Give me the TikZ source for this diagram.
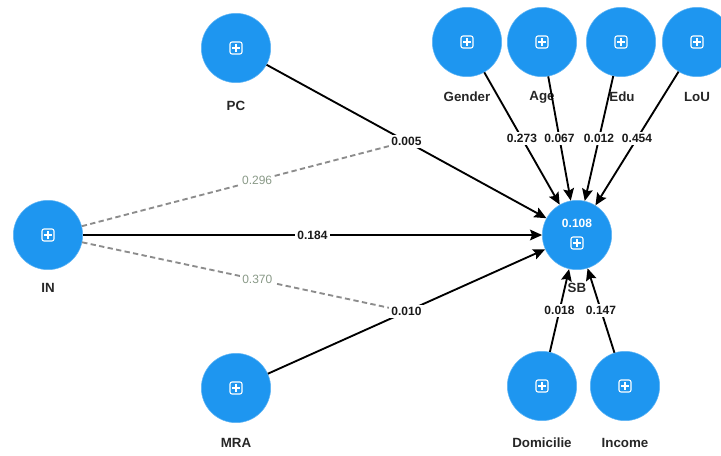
\documentclass[tikz,border=0pt]{standalone}
\usepackage{fontspec}
\setmainfont{Liberation Sans}
\usetikzlibrary{arrows.meta,calc}
\definecolor{lvblue}{HTML}{1E96F0}
\definecolor{dashgray}{HTML}{8C8C8C}
\definecolor{coefgray}{HTML}{8A9A88}
\tikzset{
  lv/.style={circle, fill=lvblue, draw=lvblue!70!white, line width=0.4pt, minimum size=52pt, inner sep=0pt},
  lbl/.style={font=\bfseries\fontsize{10}{12}\selectfont, text=black!85},
  coef/.style={font=\bfseries\fontsize{9}{11}\selectfont, text=black!90, fill=white, inner sep=1.5pt},
  gcoef/.style={font=\fontsize{9}{11}\selectfont, text=coefgray, fill=white, inner sep=1.5pt},
  path/.style={line width=1.4pt, black, -{Stealth[length=9pt,width=8pt,inset=1.5pt]}},
  mod/.style={line width=1.4pt, dashgray, dash pattern=on 4pt off 2.5pt},
  plusicon/.pic={
    \draw[white, line width=0.8pt, rounded corners=1.5pt] (-6,-6) rectangle (6,6);
    \draw[white, line width=0.8pt] (-3.6,0) -- (3.6,0) (0,-3.6) -- (0,3.6);
  }
}
\begin{document}
\begin{tikzpicture}[x=0.75pt, y=-0.75pt]
\useasboundingbox (0,0) rectangle (721,455);
% latent variables
\node[lv] (PC) at (236,48) {};
\node[lv] (IN) at (48,235) {};
\node[lv] (MRA) at (236,388) {};
\node[lv] (SB) at (577,235) {};
\node[lv] (Gender) at (467,42) {};
\node[lv] (Age) at (542,42) {};
\node[lv] (Edu) at (621,42) {};
\node[lv] (LoU) at (697,42) {};
\node[lv] (Dom) at (542,386) {};
\node[lv] (Inc) at (625,386) {};
% icons
\foreach \n in {PC,IN,MRA,Gender,Age,Edu,LoU,Dom,Inc} { \pic at (\n) {plusicon}; }
\pic at ($(SB)+(0,8)$) {plusicon};
\node[font=\bfseries\fontsize{9}{11}\selectfont, text=white] (SBr2) at ($(SB)+(0,-12)$) {0.108};
% labels
\node[lbl] (PCl) at (236,106) {PC};
\node[lbl] (INl) at (48,288) {IN};
\node[lbl] (MRAl) at (236,443) {MRA};
\node[lbl] (SBl) at (577,288) {SB};
\node[lbl] (Genderl) at (467,97) {Gender};
\node[lbl] (Agel) at (542,97) {Age};
\node[lbl] (Edul) at (622,97) {Edu};
\node[lbl] (LoUl) at (697,97) {LoU};
\node[lbl] (Doml) at (542,443) {Domicilie};
\node[lbl] (Incl) at (625,443) {Income};
% midpoints for moderation
\coordinate (m1) at ($(PC)!0.5!(SB)$);
\coordinate (m2) at ($(MRA)!0.5!(SB)$);
% moderating effects (dashed)
\draw[mod] (IN) -- node[gcoef, pos=0.54] {0.296} (m1);
\draw[mod] (IN) -- node[gcoef, pos=0.54] {0.370} (m2);
% structural paths
\draw[path] (PC) -- node[coef] {0.005} (SB);
\draw[path] (MRA) -- node[coef] {0.010} (SB);
\draw[path] (IN) -- node[coef] {0.184} (SB);
\draw[path] (Gender) -- node[coef] {0.273} (SB);
\draw[path] (Age) -- node[coef] {0.067} (SB);
\draw[path] (Edu) -- node[coef] {0.012} (SB);
\draw[path] (LoU) -- node[coef] {0.454} (SB);
\draw[path] (Dom) -- node[coef] {0.018} (SB);
\draw[path] (Inc) -- node[coef] {0.147} (SB);
\end{tikzpicture}
\end{document}
